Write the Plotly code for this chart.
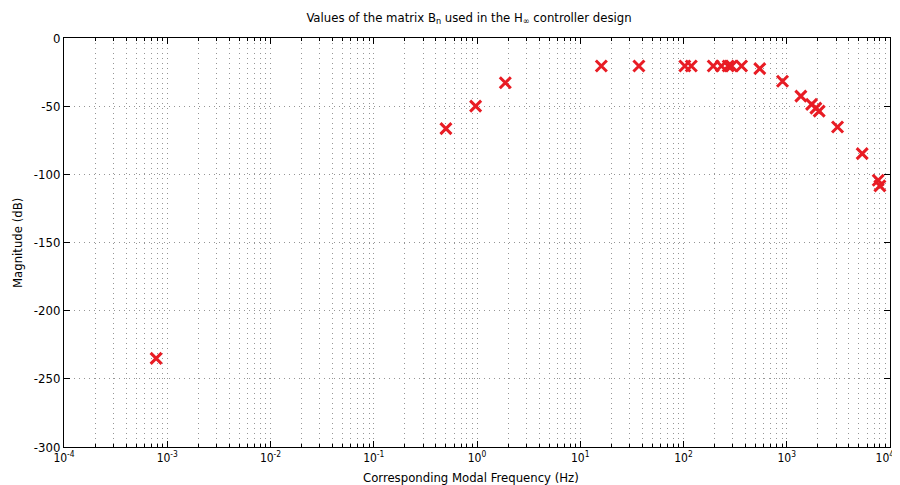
import plotly.graph_objects as go

freq_hz = [7.8e-4, 0.50, 0.97, 1.88, 16.0, 37.0, 103, 119, 194, 233, 271, 292, 365,
           548, 910, 1370, 1740, 1914, 2061, 3105, 5380, 7690, 7980]
mag_db = [-235, -66.5, -50, -32.8, -20.5, -20.5, -20.5, -20.5, -20.5, -20.5, -20.5, -20.5, -20.5,
          -22.5, -31.7, -42.6, -48.7, -51.4, -53.6, -65.3, -84.8, -104.3, -108.5]
x_tick_exps = [-4, -3, -2, -1, 0, 1, 2, 3, 4]
y_ticks = [-300, -250, -200, -150, -100, -50, 0]

FONT = "Liberation Sans Narrow, DejaVu Sans Condensed, Open Sans, sans-serif"
GRID = "rgb(150,150,150)"
DASH = "1px,4px"

# page body has an 8px default margin; size the figure so it fits the 900x485 window
W, H = 892, 477
L, R, T, B = 56, 10, 30, 38
PW, PH = W - L - R, H - T - B

x_ticktext = ["10<sup>%d</sup>" % e for e in x_tick_exps]
# keep the right-most label inside the window (nudged left with trailing no-break spaces)
x_ticktext[-1] = x_ticktext[-1] + "\u00a0\u00a0\u00a0"

fig = go.Figure()
fig.add_trace(go.Scatter(
    x=freq_hz, y=mag_db, mode="markers",
    marker=dict(symbol="x-thin", size=11, color="rgb(232,28,36)",
                line=dict(width=3, color="rgb(232,28,36)")),
    showlegend=False, cliponaxis=False,
))

fig.update_layout(
    width=W, height=H,
    margin=dict(l=L, r=R, t=T, b=B),
    paper_bgcolor="white", plot_bgcolor="white",
    font=dict(family=FONT, size=13, color="black"),
    title=dict(text="Values of the matrix B<sub>n</sub> used in the H<sub>∞</sub> controller design",
               x=461 / W, xanchor="center", y=1 - 9 / H, yanchor="middle",
               font=dict(family=FONT, size=13)),
    annotations=[
        dict(text="Corresponding Modal Frequency (Hz)", xref="paper", yref="paper",
             x=(463 - L) / PW, y=-(469 - (T + PH)) / PH, xanchor="center", yanchor="middle",
             showarrow=False, font=dict(size=13)),
        dict(text="Magnitude (dB)", xref="paper", yref="paper", textangle=-90,
             x=(10 - L) / PW, y=((T + PH) - 235) / PH, xanchor="center", yanchor="middle",
             showarrow=False, font=dict(size=13)),
    ],
)
fig.update_xaxes(
    type="log", range=[-4, 4], automargin=False, ticklabeloverflow="allow",
    tickvals=[10.0 ** e for e in x_tick_exps],
    ticktext=x_ticktext,
    showline=True, linecolor="black", linewidth=1, mirror="ticks",
    ticks="inside", ticklen=6, tickcolor="black",
    showgrid=True, gridcolor=GRID, griddash=DASH, gridwidth=1,
    minor=dict(dtick="D1", ticks="inside", ticklen=3, tickcolor="black",
               showgrid=True, gridcolor=GRID, griddash=DASH, gridwidth=1),
    zeroline=False,
    tickfont=dict(size=12),
)
fig.update_yaxes(
    range=[-300, 0], automargin=False, ticklabeloverflow="allow",
    tickvals=y_ticks, ticktext=[str(v) for v in y_ticks],
    showline=True, linecolor="black", linewidth=1, mirror="ticks",
    ticks="inside", ticklen=6, tickcolor="black",
    showgrid=True, gridcolor=GRID, griddash=DASH, gridwidth=1,
    zeroline=False,
    tickfont=dict(size=13),
)

fig.write_html("out.html")
